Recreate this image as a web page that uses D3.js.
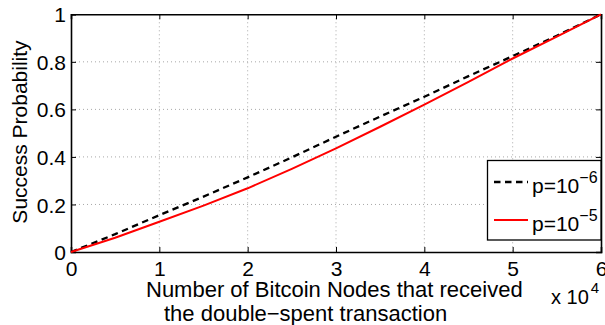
<!DOCTYPE html>
<html>
<head>
<meta charset="utf-8">
<script src="https://cdn.jsdelivr.net/npm/d3@7"></script>
<style>
  html, body { margin: 0; padding: 0; background: #fff; }
  svg { display: block; font-family: "Liberation Sans", Arial, Helvetica, sans-serif; }
</style>
</head>
<body>
<svg id="chart" width="605" height="325"></svg>
<script>
// Number of nodes that received the double-spent transaction
const nodes = [0, 5000, 10000, 15000, 20000, 25000, 30000, 35000, 40000, 45000, 50000, 55000, 60000];
// Success probability for p = 10^-6
const probP6 = [0, 0.075, 0.155, 0.233, 0.314, 0.398, 0.485, 0.570, 0.653, 0.740, 0.824, 0.910, 1.0];
// Success probability for p = 10^-5
const probP5 = [0, 0.060, 0.127, 0.195, 0.268, 0.350, 0.436, 0.527, 0.620, 0.716, 0.814, 0.906, 1.0];

const xTicks = [0, 10000, 20000, 30000, 40000, 50000, 60000];
const xTickLabels = ["0", "1", "2", "3", "4", "5", "6"];
const yTicks = [0, 0.2, 0.4, 0.6, 0.8, 1];
const yTickLabels = ["0", "0.2", "0.4", "0.6", "0.8", "1"];

const seriesNames = ["\u22126", "\u22125"];

(function draw() {
  const svg = d3.select("#chart");
  const pLeft = 71, pRight = 601, pTop = 14.3, pBottom = 252;

  const x = d3.scaleLinear().domain([0, 60000]).range([pLeft, pRight]);
  const y = d3.scaleLinear().domain([0, 1]).range([pBottom, pTop]);

  // dotted grid
  const grid = svg.append("g").attr("stroke", "#a8a8a8").attr("stroke-width", 1)
    .attr("stroke-dasharray", "1,3");
  grid.selectAll("line.gx").data(xTicks.slice(1, -1)).join("line")
    .attr("x1", d => x(d)).attr("x2", d => x(d))
    .attr("y1", pTop).attr("y2", pBottom);
  grid.selectAll("line.gy").data(yTicks.slice(1, -1)).join("line")
    .attr("x1", pLeft).attr("x2", pRight)
    .attr("y1", d => y(d)).attr("y2", d => y(d));

  // axes with inward ticks on all four sides
  const tickLen = 5;
  const axB = svg.append("g").attr("transform", `translate(0,${pBottom})`)
    .call(d3.axisBottom(x).tickValues(xTicks).tickSize(-tickLen).tickPadding(9)
      .tickFormat((d, i) => xTickLabels[i]));
  const axT = svg.append("g").attr("transform", `translate(0,${pTop})`)
    .call(d3.axisTop(x).tickValues(xTicks).tickSize(-tickLen).tickFormat(""));
  const axL = svg.append("g").attr("transform", `translate(${pLeft},0)`)
    .call(d3.axisLeft(y).tickValues(yTicks).tickSize(-tickLen).tickPadding(5)
      .tickFormat((d, i) => yTickLabels[i]));
  const axR = svg.append("g").attr("transform", `translate(${pRight},0)`)
    .call(d3.axisRight(y).tickValues(yTicks).tickSize(-tickLen).tickFormat(""));

  [axB, axT, axL, axR].forEach(a => {
    a.select(".domain").attr("stroke", "#000").attr("stroke-width", 1.6);
    a.selectAll(".tick line").attr("stroke", "#000").attr("stroke-width", 1);
    a.selectAll("text").attr("fill", "#000").style("font-size", "21px")
      .style("font-family", "'Liberation Sans', Arial, sans-serif");
  });
  axB.selectAll("text").attr("dy", "0.71em").attr("y", 9);
  axL.selectAll("text").attr("dy", "0.36em");

  // data lines
  const line = d3.line().x((d, i) => x(nodes[i])).y(d => y(d));
  svg.append("path").datum(probP6)
    .attr("fill", "none").attr("stroke", "#000").attr("stroke-width", 2.3)
    .attr("stroke-dasharray", "6.5,4.5").attr("d", line);
  svg.append("path").datum(probP5)
    .attr("fill", "none").attr("stroke", "#ff0000").attr("stroke-width", 2)
    .attr("d", line);

  // x exponent
  const expo = svg.append("text").attr("x", 551).attr("y", 304)
    .style("font-size", "20px").attr("fill", "#000");
  expo.append("tspan").text("x 10");
  expo.append("tspan").attr("dx", 2).attr("dy", -11).style("font-size", "15px").text("4");

  // axis titles
  svg.append("text").attr("x", 146).attr("y", 297).style("font-size", "22px")
    .attr("fill", "#000").text("Number of Bitcoin Nodes that received");
  svg.append("text").attr("x", 164).attr("y", 321).style("font-size", "22px")
    .attr("fill", "#000").text("the double\u2212spent transaction");
  svg.append("text").attr("transform", "translate(27,132) rotate(-90)")
    .attr("text-anchor", "middle").style("font-size", "21px").attr("fill", "#000")
    .text("Success Probability");

  // legend
  const lg = svg.append("g");
  lg.append("rect").attr("x", 487.5).attr("y", 160.5).attr("width", 113.5).attr("height", 79.5)
    .attr("fill", "#fff").attr("stroke", "#000").attr("stroke-width", 1.3);
  const entries = [
    { name: seriesNames[0], color: "#000", dash: "6.5,4.5", w: 2.3 },
    { name: seriesNames[1], color: "#ff0000", dash: null, w: 2 }
  ];
  entries.forEach((e, i) => {
    const cy = 182 + i * 38;
    lg.append("line").attr("x1", 494).attr("x2", 528).attr("y1", cy).attr("y2", cy)
      .attr("stroke", e.color).attr("stroke-width", e.w)
      .attr("stroke-dasharray", e.dash);
    const t = lg.append("text").attr("x", 532).attr("y", cy + 11)
      .style("font-size", "21px").attr("fill", "#000");
    t.append("tspan").text("p=10");
    t.append("tspan").attr("dy", -10).style("font-size", "16px").text(e.name);
  });
})();
</script>
</body>
</html>
